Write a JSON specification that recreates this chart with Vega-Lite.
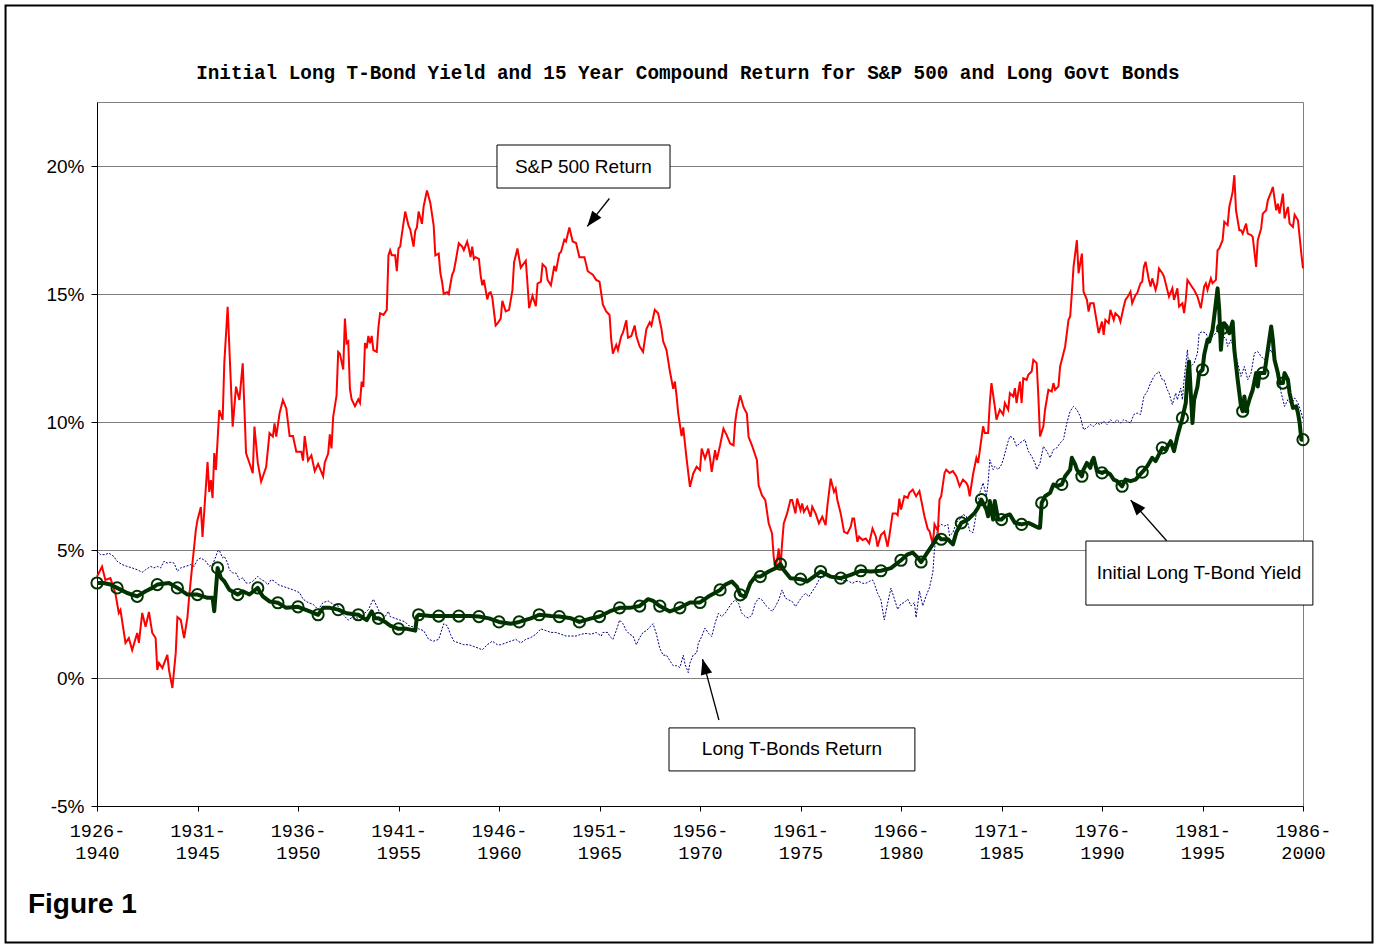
{
  "$schema": "https://vega.github.io/schema/vega-lite/v6.json",
  "width": 1206,
  "height": 704,
  "autosize": "none",
  "padding": {"left": 97, "top": 102, "right": 72, "bottom": 140},
  "background": "white",
  "config": {"view": {"stroke": "#808080", "strokeWidth": 1}},
  "datasets": {
    "sp": [
      {"m":0,"v":3.96},{"m":3,"v":4.35},{"m":5,"v":3.83},{"m":8,"v":3.9},{"m":11,"v":3.3},{"m":13,"v":2.54},{"m":14,"v":2.66},{"m":17,"v":1.37},{"m":19,"v":1.56},{"m":21,"v":1.09},{"m":24,"v":1.76},{"m":25,"v":1.37},{"m":27,"v":2.54},{"m":29,"v":2.0},{"m":31,"v":2.58},{"m":33,"v":1.76},{"m":35,"v":1.56},{"m":36,"v":0.31},{"m":37,"v":0.59},{"m":39,"v":0.39},{"m":42,"v":0.9},{"m":43,"v":0.31},{"m":45,"v":-0.39},{"m":47,"v":0.97},{"m":48,"v":2.38},{"m":50,"v":2.27},{"m":52,"v":1.56},{"m":54,"v":2.38},{"m":55,"v":3.16},{"m":57,"v":4.49},{"m":59,"v":5.78},{"m":60,"v":6.17},{"m":62,"v":6.68},{"m":63,"v":5.51},{"m":66,"v":8.44},{"m":67,"v":7.27},{"m":68,"v":7.73},{"m":69,"v":7.03},{"m":70,"v":8.79},{"m":71,"v":8.13},{"m":73,"v":10.47},{"m":75,"v":10.08},{"m":76,"v":12.3},{"m":78,"v":14.5},{"m":81,"v":9.82},{"m":83,"v":11.38},{"m":85,"v":10.86},{"m":87,"v":12.29},{"m":89,"v":8.78},{"m":91,"v":8.4},{"m":93,"v":8.0},{"m":94,"v":9.82},{"m":96,"v":8.4},{"m":98,"v":7.67},{"m":99,"v":7.86},{"m":101,"v":8.25},{"m":103,"v":9.57},{"m":105,"v":9.43},{"m":106,"v":9.95},{"m":107,"v":9.43},{"m":109,"v":10.34},{"m":111,"v":10.86},{"m":113,"v":10.53},{"m":115,"v":9.45},{"m":117,"v":9.45},{"m":119,"v":8.84},{"m":122,"v":8.84},{"m":123,"v":8.49},{"m":124,"v":9.45},{"m":126,"v":8.49},{"m":128,"v":8.7},{"m":130,"v":8.08},{"m":132,"v":8.36},{"m":135,"v":7.88},{"m":136,"v":8.42},{"m":138,"v":8.77},{"m":139,"v":9.52},{"m":140,"v":8.97},{"m":141,"v":10.2},{"m":143,"v":11.03},{"m":144,"v":12.74},{"m":145,"v":12.67},{"m":147,"v":12.05},{"m":148,"v":14.04},{"m":149,"v":13.08},{"m":150,"v":13.15},{"m":151,"v":11.3},{"m":152,"v":10.89},{"m":154,"v":10.62},{"m":156,"v":10.89},{"m":157,"v":10.75},{"m":158,"v":11.58},{"m":159,"v":11.37},{"m":160,"v":13.08},{"m":161,"v":12.88},{"m":162,"v":13.36},{"m":163,"v":13.08},{"m":164,"v":13.36},{"m":165,"v":12.81},{"m":167,"v":12.74},{"m":168,"v":13.7},{"m":169,"v":14.25},{"m":171,"v":14.18},{"m":173,"v":14.38},{"m":174,"v":16.51},{"m":175,"v":16.71},{"m":176,"v":16.51},{"m":178,"v":16.51},{"m":179,"v":15.89},{"m":180,"v":16.78},{"m":181,"v":16.85},{"m":182,"v":17.33},{"m":184,"v":18.22},{"m":186,"v":17.67},{"m":187,"v":17.53},{"m":189,"v":16.85},{"m":190,"v":17.47},{"m":191,"v":17.6},{"m":192,"v":18.22},{"m":194,"v":17.74},{"m":195,"v":18.42},{"m":197,"v":19.04},{"m":199,"v":18.56},{"m":201,"v":17.67},{"m":202,"v":16.51},{"m":204,"v":16.58},{"m":205,"v":15.82},{"m":206,"v":15.48},{"m":207,"v":15.0},{"m":209,"v":15.07},{"m":210,"v":15.0},{"m":212,"v":15.75},{"m":213,"v":15.89},{"m":214,"v":16.23},{"m":216,"v":16.99},{"m":218,"v":16.85},{"m":219,"v":16.71},{"m":221,"v":17.05},{"m":222,"v":16.78},{"m":223,"v":16.44},{"m":224,"v":16.85},{"m":225,"v":16.37},{"m":226,"v":16.44},{"m":228,"v":16.37},{"m":229,"v":15.75},{"m":230,"v":15.34},{"m":231,"v":15.55},{"m":233,"v":14.79},{"m":234,"v":15.03},{"m":235,"v":15.07},{"m":236,"v":14.86},{"m":238,"v":13.77},{"m":239,"v":13.84},{"m":241,"v":14.04},{"m":242,"v":14.73},{"m":244,"v":14.32},{"m":246,"v":14.38},{"m":248,"v":15.14},{"m":249,"v":16.23},{"m":251,"v":16.78},{"m":253,"v":16.03},{"m":256,"v":16.3},{"m":257,"v":15.41},{"m":258,"v":14.45},{"m":260,"v":14.93},{"m":262,"v":14.52},{"m":263,"v":15.41},{"m":265,"v":15.48},{"m":266,"v":16.16},{"m":268,"v":16.03},{"m":269,"v":15.55},{"m":271,"v":15.34},{"m":273,"v":16.1},{"m":274,"v":15.89},{"m":276,"v":16.58},{"m":277,"v":16.64},{"m":279,"v":17.12},{"m":280,"v":17.05},{"m":282,"v":17.6},{"m":284,"v":17.05},{"m":286,"v":16.99},{"m":288,"v":16.44},{"m":291,"v":16.44},{"m":293,"v":15.89},{"m":296,"v":15.75},{"m":298,"v":15.55},{"m":300,"v":15.48},{"m":302,"v":14.59},{"m":304,"v":14.32},{"m":306,"v":14.18},{"m":307,"v":13.22},{"m":308,"v":12.67},{"m":310,"v":13.01},{"m":311,"v":12.81},{"m":313,"v":13.36},{"m":314,"v":13.49},{"m":316,"v":13.97},{"m":317,"v":13.29},{"m":319,"v":13.36},{"m":321,"v":13.77},{"m":322,"v":13.36},{"m":324,"v":12.95},{"m":326,"v":12.74},{"m":328,"v":13.63},{"m":330,"v":13.9},{"m":331,"v":13.77},{"m":333,"v":14.38},{"m":335,"v":14.25},{"m":337,"v":13.63},{"m":338,"v":13.15},{"m":340,"v":12.81},{"m":342,"v":11.99},{"m":344,"v":11.3},{"m":345,"v":11.58},{"m":346,"v":11.03},{"m":347,"v":10.34},{"m":349,"v":9.45},{"m":350,"v":9.79},{"m":352,"v":8.56},{"m":354,"v":7.47},{"m":356,"v":7.99},{"m":358,"v":8.25},{"m":360,"v":8.12},{"m":361,"v":8.96},{"m":363,"v":8.57},{"m":365,"v":8.96},{"m":366,"v":8.57},{"m":367,"v":8.05},{"m":369,"v":8.9},{"m":370,"v":8.51},{"m":372,"v":9.09},{"m":374,"v":9.74},{"m":376,"v":9.48},{"m":378,"v":9.16},{"m":380,"v":9.09},{"m":381,"v":10.0},{"m":382,"v":10.45},{"m":384,"v":11.04},{"m":386,"v":10.58},{"m":388,"v":10.32},{"m":389,"v":9.42},{"m":391,"v":9.09},{"m":393,"v":8.7},{"m":394,"v":8.51},{"m":395,"v":7.53},{"m":397,"v":7.14},{"m":399,"v":6.95},{"m":401,"v":6.04},{"m":403,"v":5.65},{"m":404,"v":4.74},{"m":405,"v":4.22},{"m":406,"v":4.61},{"m":407,"v":5.06},{"m":408,"v":4.22},{"m":409,"v":5.26},{"m":410,"v":6.04},{"m":412,"v":6.43},{"m":414,"v":6.95},{"m":415,"v":6.95},{"m":417,"v":6.43},{"m":418,"v":7.01},{"m":420,"v":6.56},{"m":421,"v":6.82},{"m":422,"v":6.49},{"m":424,"v":6.69},{"m":426,"v":6.3},{"m":427,"v":6.69},{"m":429,"v":6.43},{"m":431,"v":6.04},{"m":433,"v":6.3},{"m":435,"v":5.97},{"m":436,"v":6.69},{"m":438,"v":7.79},{"m":440,"v":7.27},{"m":441,"v":7.4},{"m":442,"v":6.95},{"m":444,"v":6.43},{"m":446,"v":5.71},{"m":448,"v":5.65},{"m":450,"v":5.91},{"m":451,"v":6.23},{"m":452,"v":6.23},{"m":454,"v":5.32},{"m":455,"v":5.52},{"m":457,"v":5.39},{"m":459,"v":5.45},{"m":461,"v":5.26},{"m":463,"v":5.84},{"m":465,"v":5.52},{"m":466,"v":5.13},{"m":468,"v":5.58},{"m":470,"v":5.71},{"m":472,"v":5.13},{"m":473,"v":5.52},{"m":475,"v":6.43},{"m":477,"v":6.43},{"m":478,"v":6.36},{"m":479,"v":7.01},{"m":480,"v":6.58},{"m":482,"v":7.1},{"m":484,"v":7.04},{"m":485,"v":7.23},{"m":487,"v":7.36},{"m":489,"v":7.1},{"m":491,"v":7.3},{"m":492,"v":6.97},{"m":494,"v":6.32},{"m":496,"v":5.81},{"m":497,"v":5.74},{"m":499,"v":5.22},{"m":500,"v":6.0},{"m":502,"v":5.74},{"m":503,"v":6.97},{"m":504,"v":7.1},{"m":506,"v":8.01},{"m":507,"v":8.14},{"m":509,"v":8.01},{"m":511,"v":8.08},{"m":513,"v":7.88},{"m":515,"v":7.49},{"m":517,"v":7.75},{"m":519,"v":7.62},{"m":520,"v":7.49},{"m":521,"v":7.1},{"m":523,"v":7.95},{"m":525,"v":8.6},{"m":526,"v":8.4},{"m":527,"v":8.86},{"m":529,"v":9.83},{"m":530,"v":9.57},{"m":532,"v":9.57},{"m":533,"v":10.74},{"m":534,"v":11.52},{"m":536,"v":10.61},{"m":537,"v":10.09},{"m":539,"v":10.48},{"m":541,"v":10.29},{"m":542,"v":10.74},{"m":544,"v":10.48},{"m":545,"v":11.13},{"m":547,"v":11.0},{"m":548,"v":11.32},{"m":549,"v":10.74},{"m":551,"v":11.58},{"m":552,"v":10.74},{"m":553,"v":11.71},{"m":555,"v":11.65},{"m":556,"v":11.84},{"m":558,"v":11.97},{"m":559,"v":12.43},{"m":561,"v":12.3},{"m":562,"v":11.0},{"m":563,"v":9.44},{"m":565,"v":9.83},{"m":566,"v":10.48},{"m":567,"v":10.87},{"m":568,"v":11.26},{"m":570,"v":11.19},{"m":571,"v":11.52},{"m":572,"v":11.26},{"m":574,"v":11.39},{"m":575,"v":12.17},{"m":577,"v":12.69},{"m":578,"v":12.95},{"m":580,"v":13.99},{"m":581,"v":14.12},{"m":582,"v":15.03},{"m":583,"v":16.06},{"m":585,"v":17.1},{"m":586,"v":15.81},{"m":588,"v":16.58},{"m":589,"v":15.09},{"m":591,"v":14.77},{"m":592,"v":14.31},{"m":593,"v":14.64},{"m":595,"v":14.64},{"m":597,"v":13.86},{"m":598,"v":13.47},{"m":600,"v":13.92},{"m":601,"v":13.4},{"m":602,"v":13.99},{"m":604,"v":13.86},{"m":605,"v":14.38},{"m":607,"v":13.99},{"m":608,"v":14.25},{"m":610,"v":14.12},{"m":611,"v":13.92},{"m":613,"v":14.51},{"m":614,"v":14.77},{"m":616,"v":14.96},{"m":617,"v":15.09},{"m":618,"v":14.64},{"m":620,"v":14.96},{"m":621,"v":15.03},{"m":623,"v":15.42},{"m":624,"v":15.48},{"m":625,"v":16.06},{"m":626,"v":16.26},{"m":628,"v":15.55},{"m":629,"v":15.29},{"m":630,"v":15.61},{"m":632,"v":15.16},{"m":633,"v":15.42},{"m":634,"v":16.0},{"m":636,"v":15.81},{"m":637,"v":15.68},{"m":639,"v":15.16},{"m":640,"v":14.9},{"m":642,"v":15.22},{"m":643,"v":14.77},{"m":645,"v":15.22},{"m":646,"v":14.51},{"m":648,"v":14.64},{"m":649,"v":14.25},{"m":650,"v":14.77},{"m":651,"v":15.55},{"m":653,"v":15.35},{"m":655,"v":15.16},{"m":656,"v":15.03},{"m":657,"v":14.9},{"m":659,"v":14.44},{"m":661,"v":15.29},{"m":662,"v":15.42},{"m":663,"v":15.16},{"m":665,"v":15.61},{"m":666,"v":15.42},{"m":668,"v":15.55},{"m":669,"v":16.71},{"m":670,"v":16.78},{"m":672,"v":17.1},{"m":673,"v":17.82},{"m":675,"v":17.69},{"m":676,"v":18.4},{"m":678,"v":18.99},{"m":679,"v":19.64},{"m":680,"v":18.27},{"m":682,"v":17.49},{"m":683,"v":17.49},{"m":684,"v":17.36},{"m":686,"v":17.75},{"m":687,"v":17.36},{"m":689,"v":17.3},{"m":690,"v":17.23},{"m":692,"v":16.06},{"m":693,"v":17.1},{"m":695,"v":17.56},{"m":696,"v":18.14},{"m":698,"v":18.27},{"m":699,"v":18.66},{"m":701,"v":18.99},{"m":702,"v":19.18},{"m":704,"v":18.27},{"m":705,"v":18.53},{"m":706,"v":18.14},{"m":708,"v":18.92},{"m":709,"v":17.95},{"m":711,"v":18.4},{"m":712,"v":17.75},{"m":714,"v":17.62},{"m":715,"v":18.1},{"m":717,"v":17.88},{"m":718,"v":17.23},{"m":719,"v":16.58},{"m":720,"v":16.0}
    ],
    "tb": [
      {"m":0,"v":4.95},{"m":2,"v":4.82},{"m":5,"v":4.82},{"m":7,"v":4.88},{"m":10,"v":4.75},{"m":12,"v":4.56},{"m":15,"v":4.43},{"m":18,"v":4.36},{"m":21,"v":4.3},{"m":24,"v":4.23},{"m":27,"v":4.13},{"m":29,"v":4.23},{"m":32,"v":4.36},{"m":34,"v":4.3},{"m":36,"v":4.36},{"m":38,"v":4.3},{"m":40,"v":4.56},{"m":42,"v":4.49},{"m":44,"v":4.52},{"m":46,"v":4.49},{"m":48,"v":4.17},{"m":50,"v":4.3},{"m":53,"v":4.36},{"m":56,"v":4.43},{"m":58,"v":4.36},{"m":60,"v":4.62},{"m":62,"v":4.69},{"m":65,"v":4.56},{"m":67,"v":4.36},{"m":69,"v":4.43},{"m":71,"v":4.75},{"m":72,"v":4.95},{"m":73,"v":4.99},{"m":75,"v":4.69},{"m":76,"v":4.75},{"m":78,"v":4.49},{"m":79,"v":4.23},{"m":81,"v":4.1},{"m":83,"v":4.1},{"m":85,"v":3.84},{"m":87,"v":3.91},{"m":89,"v":3.71},{"m":91,"v":3.71},{"m":93,"v":3.78},{"m":96,"v":3.97},{"m":98,"v":3.84},{"m":100,"v":3.78},{"m":102,"v":3.65},{"m":104,"v":3.84},{"m":106,"v":3.78},{"m":108,"v":3.65},{"m":111,"v":3.58},{"m":115,"v":3.49},{"m":118,"v":3.42},{"m":121,"v":3.33},{"m":123,"v":3.08},{"m":126,"v":2.95},{"m":129,"v":2.88},{"m":132,"v":2.67},{"m":135,"v":2.95},{"m":138,"v":3.01},{"m":141,"v":2.88},{"m":144,"v":2.81},{"m":147,"v":2.47},{"m":150,"v":2.26},{"m":153,"v":2.4},{"m":156,"v":2.33},{"m":159,"v":2.47},{"m":162,"v":2.67},{"m":165,"v":3.08},{"m":167,"v":2.81},{"m":169,"v":2.53},{"m":172,"v":2.4},{"m":174,"v":2.6},{"m":175,"v":2.4},{"m":178,"v":2.33},{"m":181,"v":2.26},{"m":184,"v":2.19},{"m":186,"v":2.05},{"m":189,"v":1.99},{"m":192,"v":1.92},{"m":195,"v":1.85},{"m":198,"v":1.51},{"m":201,"v":1.44},{"m":204,"v":1.51},{"m":207,"v":2.12},{"m":209,"v":2.05},{"m":211,"v":1.71},{"m":213,"v":1.44},{"m":216,"v":1.37},{"m":219,"v":1.3},{"m":222,"v":1.3},{"m":225,"v":1.23},{"m":228,"v":1.16},{"m":230,"v":1.1},{"m":233,"v":1.3},{"m":236,"v":1.44},{"m":239,"v":1.3},{"m":241,"v":1.3},{"m":244,"v":1.37},{"m":247,"v":1.44},{"m":250,"v":1.51},{"m":253,"v":1.37},{"m":256,"v":1.51},{"m":259,"v":1.58},{"m":262,"v":1.71},{"m":265,"v":1.92},{"m":268,"v":1.85},{"m":271,"v":1.78},{"m":274,"v":1.78},{"m":277,"v":1.71},{"m":280,"v":1.64},{"m":283,"v":1.64},{"m":286,"v":1.64},{"m":289,"v":1.71},{"m":292,"v":1.74},{"m":295,"v":1.71},{"m":298,"v":1.78},{"m":301,"v":1.64},{"m":302,"v":1.78},{"m":305,"v":1.78},{"m":306,"v":1.64},{"m":308,"v":1.51},{"m":310,"v":1.85},{"m":312,"v":2.26},{"m":314,"v":2.12},{"m":316,"v":1.85},{"m":318,"v":1.71},{"m":320,"v":1.64},{"m":322,"v":1.3},{"m":324,"v":1.58},{"m":326,"v":1.78},{"m":328,"v":1.85},{"m":330,"v":1.99},{"m":332,"v":2.12},{"m":334,"v":1.71},{"m":336,"v":1.16},{"m":338,"v":0.89},{"m":340,"v":0.89},{"m":342,"v":0.68},{"m":344,"v":0.48},{"m":346,"v":0.48},{"m":348,"v":0.41},{"m":350,"v":0.89},{"m":351,"v":0.55},{"m":353,"v":0.21},{"m":354,"v":0.58},{"m":356,"v":0.91},{"m":358,"v":0.97},{"m":359,"v":1.36},{"m":361,"v":1.62},{"m":363,"v":1.95},{"m":365,"v":1.75},{"m":367,"v":1.62},{"m":369,"v":2.14},{"m":371,"v":2.53},{"m":373,"v":2.4},{"m":375,"v":2.53},{"m":377,"v":2.73},{"m":379,"v":2.92},{"m":381,"v":3.05},{"m":383,"v":2.92},{"m":385,"v":2.53},{"m":387,"v":2.4},{"m":389,"v":2.34},{"m":391,"v":2.47},{"m":393,"v":2.92},{"m":395,"v":3.12},{"m":397,"v":3.05},{"m":399,"v":2.86},{"m":401,"v":2.73},{"m":403,"v":2.6},{"m":405,"v":2.79},{"m":407,"v":3.05},{"m":409,"v":3.44},{"m":411,"v":3.12},{"m":413,"v":3.05},{"m":415,"v":2.99},{"m":417,"v":2.79},{"m":419,"v":2.99},{"m":421,"v":3.18},{"m":423,"v":3.31},{"m":425,"v":3.18},{"m":427,"v":3.38},{"m":429,"v":3.57},{"m":431,"v":3.83},{"m":433,"v":3.96},{"m":435,"v":4.09},{"m":437,"v":3.96},{"m":439,"v":3.9},{"m":441,"v":4.03},{"m":443,"v":3.96},{"m":445,"v":3.77},{"m":447,"v":3.83},{"m":449,"v":3.77},{"m":451,"v":3.7},{"m":453,"v":3.77},{"m":455,"v":3.77},{"m":457,"v":3.7},{"m":459,"v":3.7},{"m":461,"v":3.77},{"m":463,"v":3.83},{"m":464,"v":3.7},{"m":466,"v":3.31},{"m":468,"v":3.05},{"m":470,"v":2.27},{"m":472,"v":2.92},{"m":474,"v":3.51},{"m":476,"v":3.1},{"m":478,"v":2.68},{"m":480,"v":2.9},{"m":482,"v":2.95},{"m":484,"v":3.08},{"m":486,"v":2.82},{"m":488,"v":2.95},{"m":489,"v":2.36},{"m":491,"v":3.4},{"m":493,"v":2.82},{"m":495,"v":3.21},{"m":497,"v":3.53},{"m":499,"v":4.12},{"m":500,"v":5.03},{"m":502,"v":5.87},{"m":504,"v":6.0},{"m":506,"v":5.94},{"m":508,"v":6.0},{"m":509,"v":5.55},{"m":511,"v":5.68},{"m":513,"v":6.06},{"m":515,"v":6.19},{"m":517,"v":6.39},{"m":519,"v":6.32},{"m":521,"v":5.74},{"m":523,"v":5.68},{"m":525,"v":6.45},{"m":527,"v":7.23},{"m":529,"v":7.62},{"m":531,"v":7.1},{"m":532,"v":7.62},{"m":533,"v":8.53},{"m":535,"v":8.14},{"m":536,"v":8.27},{"m":538,"v":8.14},{"m":540,"v":8.34},{"m":541,"v":8.53},{"m":544,"v":9.25},{"m":545,"v":9.44},{"m":547,"v":9.38},{"m":549,"v":9.05},{"m":551,"v":9.18},{"m":554,"v":9.31},{"m":556,"v":8.86},{"m":558,"v":8.66},{"m":560,"v":8.4},{"m":561,"v":8.14},{"m":563,"v":8.4},{"m":565,"v":9.05},{"m":567,"v":8.86},{"m":569,"v":8.6},{"m":571,"v":8.92},{"m":573,"v":8.99},{"m":575,"v":9.18},{"m":577,"v":9.31},{"m":579,"v":9.96},{"m":581,"v":10.42},{"m":583,"v":10.61},{"m":585,"v":10.48},{"m":587,"v":10.22},{"m":589,"v":9.7},{"m":591,"v":9.77},{"m":593,"v":9.9},{"m":595,"v":9.83},{"m":597,"v":9.96},{"m":599,"v":9.9},{"m":601,"v":10.03},{"m":603,"v":9.9},{"m":605,"v":10.09},{"m":607,"v":9.96},{"m":609,"v":10.09},{"m":611,"v":9.96},{"m":613,"v":10.09},{"m":615,"v":10.03},{"m":617,"v":9.96},{"m":619,"v":10.29},{"m":621,"v":10.35},{"m":623,"v":10.29},{"m":625,"v":11.0},{"m":627,"v":11.19},{"m":629,"v":11.52},{"m":631,"v":11.78},{"m":633,"v":11.91},{"m":634,"v":11.97},{"m":636,"v":11.65},{"m":637,"v":11.65},{"m":639,"v":11.26},{"m":640,"v":11.13},{"m":642,"v":10.68},{"m":644,"v":11.13},{"m":645,"v":10.87},{"m":647,"v":11.32},{"m":648,"v":10.87},{"m":649,"v":11.65},{"m":651,"v":12.82},{"m":652,"v":11.91},{"m":653,"v":12.17},{"m":655,"v":12.3},{"m":657,"v":12.69},{"m":658,"v":13.47},{"m":660,"v":13.53},{"m":662,"v":13.47},{"m":664,"v":13.21},{"m":666,"v":13.34},{"m":668,"v":13.47},{"m":670,"v":13.73},{"m":672,"v":13.34},{"m":674,"v":13.27},{"m":675,"v":12.95},{"m":677,"v":13.21},{"m":679,"v":12.82},{"m":681,"v":12.3},{"m":683,"v":11.78},{"m":685,"v":12.17},{"m":687,"v":11.65},{"m":689,"v":11.91},{"m":691,"v":12.69},{"m":693,"v":12.75},{"m":695,"v":12.56},{"m":697,"v":12.43},{"m":699,"v":12.69},{"m":701,"v":12.82},{"m":703,"v":12.43},{"m":705,"v":11.91},{"m":707,"v":11.13},{"m":709,"v":10.61},{"m":711,"v":10.87},{"m":713,"v":10.68},{"m":715,"v":10.94},{"m":717,"v":10.74},{"m":719,"v":10.35},{"m":720,"v":10.09}
    ],
    "yld": [
      {"m":0,"v":3.71},{"m":4,"v":3.71},{"m":8,"v":3.65},{"m":12,"v":3.52},{"m":18,"v":3.32},{"m":24,"v":3.19},{"m":29,"v":3.39},{"m":33,"v":3.52},{"m":36,"v":3.65},{"m":43,"v":3.71},{"m":48,"v":3.52},{"m":54,"v":3.26},{"m":60,"v":3.26},{"m":66,"v":3.13},{"m":69,"v":3.13},{"m":70,"v":2.61},{"m":71,"v":3.45},{"m":72,"v":4.3},{"m":74,"v":3.91},{"m":76,"v":3.78},{"m":79,"v":3.45},{"m":84,"v":3.26},{"m":87,"v":3.39},{"m":91,"v":3.26},{"m":96,"v":3.52},{"m":97,"v":3.39},{"m":99,"v":3.19},{"m":103,"v":2.99},{"m":108,"v":2.94},{"m":113,"v":2.74},{"m":120,"v":2.78},{"m":127,"v":2.6},{"m":132,"v":2.47},{"m":135,"v":2.74},{"m":139,"v":2.74},{"m":144,"v":2.67},{"m":149,"v":2.53},{"m":156,"v":2.47},{"m":161,"v":2.26},{"m":164,"v":2.6},{"m":166,"v":2.33},{"m":168,"v":2.33},{"m":172,"v":2.19},{"m":175,"v":2.05},{"m":180,"v":1.92},{"m":185,"v":1.92},{"m":190,"v":1.85},{"m":191,"v":2.4},{"m":192,"v":2.47},{"m":199,"v":2.42},{"m":204,"v":2.42},{"m":211,"v":2.42},{"m":216,"v":2.42},{"m":223,"v":2.42},{"m":228,"v":2.4},{"m":234,"v":2.33},{"m":240,"v":2.19},{"m":247,"v":2.12},{"m":252,"v":2.19},{"m":259,"v":2.33},{"m":264,"v":2.47},{"m":271,"v":2.42},{"m":276,"v":2.4},{"m":283,"v":2.33},{"m":288,"v":2.19},{"m":295,"v":2.33},{"m":300,"v":2.4},{"m":306,"v":2.6},{"m":312,"v":2.74},{"m":318,"v":2.74},{"m":324,"v":2.81},{"m":329,"v":3.08},{"m":332,"v":3.01},{"m":336,"v":2.81},{"m":342,"v":2.6},{"m":348,"v":2.74},{"m":354,"v":2.95},{"m":360,"v":2.95},{"m":365,"v":3.18},{"m":372,"v":3.44},{"m":375,"v":3.64},{"m":379,"v":3.77},{"m":382,"v":3.57},{"m":384,"v":3.25},{"m":387,"v":3.18},{"m":390,"v":3.7},{"m":393,"v":3.96},{"m":396,"v":3.96},{"m":401,"v":4.16},{"m":405,"v":4.29},{"m":408,"v":4.45},{"m":410,"v":4.22},{"m":414,"v":3.9},{"m":420,"v":3.86},{"m":424,"v":3.77},{"m":428,"v":3.96},{"m":432,"v":4.16},{"m":438,"v":3.96},{"m":444,"v":3.9},{"m":450,"v":4.03},{"m":456,"v":4.19},{"m":462,"v":4.16},{"m":468,"v":4.19},{"m":474,"v":4.29},{"m":480,"v":4.6},{"m":484,"v":4.83},{"m":487,"v":4.9},{"m":490,"v":4.7},{"m":492,"v":4.53},{"m":495,"v":4.83},{"m":499,"v":5.22},{"m":502,"v":5.55},{"m":504,"v":5.42},{"m":508,"v":5.42},{"m":511,"v":5.22},{"m":513,"v":5.68},{"m":516,"v":6.06},{"m":520,"v":6.19},{"m":524,"v":6.45},{"m":526,"v":6.65},{"m":528,"v":6.97},{"m":531,"v":6.58},{"m":532,"v":6.32},{"m":533,"v":6.91},{"m":535,"v":6.19},{"m":536,"v":6.91},{"m":538,"v":6.19},{"m":540,"v":6.19},{"m":542,"v":6.32},{"m":545,"v":6.39},{"m":548,"v":6.06},{"m":552,"v":6.0},{"m":556,"v":6.06},{"m":558,"v":6.0},{"m":562,"v":5.87},{"m":563,"v":5.87},{"m":564,"v":6.84},{"m":566,"v":7.1},{"m":569,"v":7.23},{"m":571,"v":7.56},{"m":573,"v":7.49},{"m":576,"v":7.56},{"m":578,"v":7.88},{"m":581,"v":8.14},{"m":582,"v":8.6},{"m":584,"v":8.34},{"m":585,"v":8.14},{"m":588,"v":7.88},{"m":589,"v":8.14},{"m":591,"v":8.4},{"m":593,"v":8.21},{"m":594,"v":8.47},{"m":595,"v":8.6},{"m":597,"v":8.08},{"m":600,"v":8.01},{"m":602,"v":8.08},{"m":605,"v":7.95},{"m":607,"v":7.75},{"m":609,"v":7.69},{"m":612,"v":7.49},{"m":614,"v":7.75},{"m":617,"v":7.69},{"m":620,"v":7.75},{"m":624,"v":8.04},{"m":627,"v":8.27},{"m":630,"v":8.6},{"m":632,"v":8.47},{"m":636,"v":8.99},{"m":638,"v":8.92},{"m":641,"v":9.25},{"m":643,"v":8.86},{"m":645,"v":9.44},{"m":648,"v":10.16},{"m":650,"v":10.74},{"m":651,"v":11.78},{"m":652,"v":12.36},{"m":653,"v":11.13},{"m":654,"v":9.96},{"m":655,"v":10.87},{"m":657,"v":11.39},{"m":658,"v":11.91},{"m":660,"v":12.04},{"m":661,"v":12.62},{"m":663,"v":13.21},{"m":664,"v":13.14},{"m":666,"v":13.6},{"m":667,"v":14.12},{"m":669,"v":15.22},{"m":670,"v":14.38},{"m":671,"v":12.82},{"m":672,"v":13.66},{"m":673,"v":13.86},{"m":675,"v":13.6},{"m":676,"v":13.47},{"m":678,"v":13.92},{"m":679,"v":12.82},{"m":681,"v":11.65},{"m":683,"v":10.61},{"m":684,"v":10.42},{"m":685,"v":11.0},{"m":686,"v":10.42},{"m":688,"v":10.87},{"m":690,"v":11.26},{"m":692,"v":11.91},{"m":693,"v":11.39},{"m":694,"v":11.91},{"m":696,"v":11.91},{"m":697,"v":11.91},{"m":699,"v":12.82},{"m":701,"v":13.73},{"m":702,"v":13.21},{"m":703,"v":12.43},{"m":705,"v":11.91},{"m":706,"v":11.52},{"m":708,"v":11.52},{"m":709,"v":11.91},{"m":711,"v":11.65},{"m":712,"v":11.13},{"m":714,"v":10.55},{"m":716,"v":10.61},{"m":717,"v":10.35},{"m":718,"v":9.96},{"m":719,"v":9.31},{"m":720,"v":9.31}
    ],
    "frame": [{"m":-54.6,"m2":761.5,"v":26.27,"v2":-10.33}],
    "boxes": [
      {"m":238.8,"m2":342.1,"v":20.82,"v2":19.14},
      {"m":341.5,"m2":488.3,"v":-1.95,"v2":-3.63},
      {"m":590.4,"m2":725.9,"v":5.35,"v2":2.85}
    ],
    "arrows": [
      {"id":"sp","m":292.7,"v":17.64,"m2":305.9,"v2":18.73},
      {"id":"tb","m":361.5,"v":0.74,"m2":371.3,"v2":-1.64},
      {"id":"yld","m":617.1,"v":6.95,"m2":638.6,"v2":5.36}
    ],
    "texts": [
      {"kind":"box","label":"S&P 500 Return","m":290.4,"v":19.98},
      {"kind":"box","label":"Long T-Bonds Return","m":414.9,"v":-2.79},
      {"kind":"box","label":"Initial Long T-Bond Yield","m":657.9,"v":4.1},
      {"kind":"title","label":"Initial Long T-Bond Yield and 15 Year Compound Return for S&P 500 and Long Govt Bonds","m":352.8,"v":23.63},
      {"kind":"figure","label":"Figure 1","m":-41.2,"v":-8.87}
    ]
  },
  "encoding": {
    "x": {
      "field": "m", "type": "quantitative",
      "scale": {"domain": [0, 720], "nice": false, "zero": false},
      "axis": {
        "values": [0,60,120,180,240,300,360,420,480,540,600,660,720],
        "title": null, "grid": false,
        "domainColor": "black", "domainWidth": 1,
        "tickColor": "black", "tickSize": 5, "tickWidth": 1,
        "labelFont": "Liberation Mono", "labelFontSize": 18.5, "labelColor": "black",
        "labelPadding": 10, "labelLineHeight": 22, "labelBaseline": "top",
        "labelFlush": false, "labelOverlap": false,
        "labelExpr": "[(1926 + datum.value/12) + '-', '' + (1940 + datum.value/12)]"
      }
    },
    "y": {
      "field": "v", "type": "quantitative",
      "scale": {"domain": [-5, 22.5], "nice": false, "zero": false},
      "axis": {
        "values": [-5,0,5,10,15,20],
        "title": null, "grid": true, "gridColor": "#808080", "gridWidth": 1,
        "domainColor": "black", "domainWidth": 1,
        "tickColor": "black", "tickSize": 6, "tickWidth": 1,
        "labelFont": "Liberation Sans", "labelFontSize": 19, "labelColor": "black",
        "labelPadding": 7, "labelFlush": false,
        "labelExpr": "datum.value + '%'"
      }
    }
  },
  "layer": [
    {
      "data": {"name": "frame"},
      "mark": {"type": "rect", "filled": false, "stroke": "black", "strokeWidth": 2, "clip": false},
      "encoding": {"x2": {"field": "m2"}, "y2": {"field": "v2"}}
    },
    {
      "data": {"name": "tb"},
      "mark": {"type": "line", "color": "#000080", "strokeWidth": 1, "strokeDash": [2, 1.5]}
    },
    {
      "data": {"name": "sp"},
      "mark": {"type": "line", "color": "#FF0000", "strokeWidth": 2}
    },
    {
      "data": {"name": "yld"},
      "mark": {"type": "line", "color": "#003300", "strokeWidth": 4, "strokeJoin": "round"}
    },
    {
      "data": {"name": "yld"},
      "transform": [{"filter": "datum.m % 12 == 0"}],
      "mark": {"type": "point", "shape": "circle", "filled": false, "stroke": "#003300", "strokeWidth": 2, "size": 125, "opacity": 1}
    },
    {
      "data": {"name": "arrows"},
      "mark": {"type": "rule", "color": "black", "strokeWidth": 1.3, "clip": false},
      "encoding": {"x2": {"field": "m2"}, "y2": {"field": "v2"}}
    },
    {
      "data": {"name": "arrows"},
      "transform": [{"filter": "datum.id == 'sp'"}],
      "mark": {"type": "point", "shape": "M0,0L0.75,2L-0.75,2Z", "filled": true, "color": "black", "size": 240, "angle": 218, "opacity": 1}
    },
    {
      "data": {"name": "arrows"},
      "transform": [{"filter": "datum.id == 'tb'"}],
      "mark": {"type": "point", "shape": "M0,0L0.75,2L-0.75,2Z", "filled": true, "color": "black", "size": 240, "angle": 345, "opacity": 1}
    },
    {
      "data": {"name": "arrows"},
      "transform": [{"filter": "datum.id == 'yld'"}],
      "mark": {"type": "point", "shape": "M0,0L0.75,2L-0.75,2Z", "filled": true, "color": "black", "size": 240, "angle": 318.5, "opacity": 1}
    },
    {
      "data": {"name": "boxes"},
      "mark": {"type": "rect", "fill": "white", "stroke": "black", "strokeWidth": 1, "clip": false},
      "encoding": {"x2": {"field": "m2"}, "y2": {"field": "v2"}}
    },
    {
      "data": {"name": "texts"},
      "transform": [{"filter": "datum.kind == 'box'"}],
      "mark": {"type": "text", "font": "Liberation Sans", "fontSize": 19, "color": "black", "align": "center", "baseline": "middle", "clip": false},
      "encoding": {"text": {"field": "label"}}
    },
    {
      "data": {"name": "texts"},
      "transform": [{"filter": "datum.kind == 'title'"}],
      "mark": {"type": "text", "font": "Liberation Mono", "fontSize": 19.3, "fontWeight": "bold", "color": "black", "align": "center", "baseline": "middle", "clip": false},
      "encoding": {"text": {"field": "label"}}
    },
    {
      "data": {"name": "texts"},
      "transform": [{"filter": "datum.kind == 'figure'"}],
      "mark": {"type": "text", "font": "Liberation Sans", "fontSize": 28, "fontWeight": "bold", "color": "black", "align": "left", "baseline": "middle", "clip": false},
      "encoding": {"text": {"field": "label"}}
    }
  ]
}
